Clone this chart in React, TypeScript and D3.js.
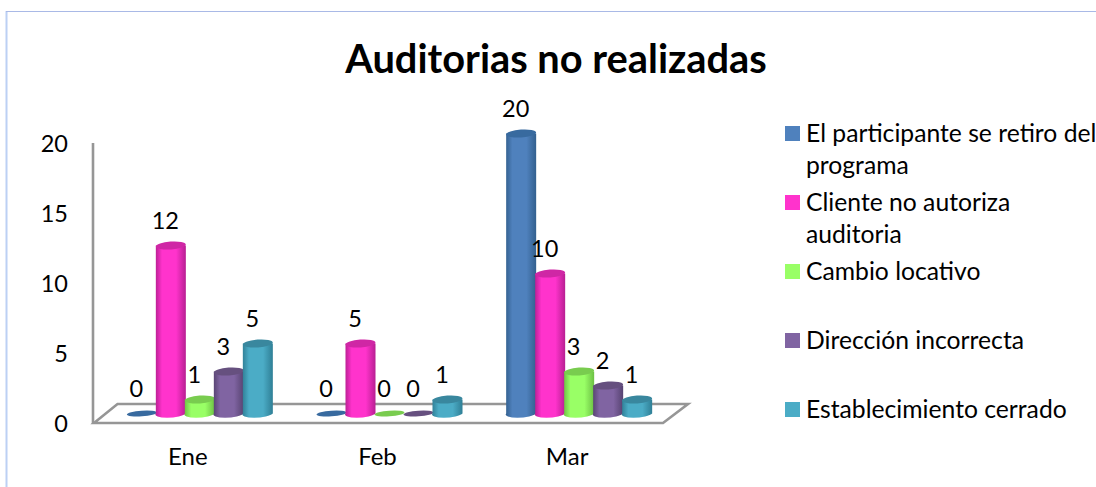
import React from "react";
import * as d3 from "d3";

const months = ["Ene", "Feb", "Mar"];
const seriesNames = [
  "El participante se retiro del programa",
  "Cliente no autoriza auditoria",
  "Cambio locativo",
  "Dirección incorrecta",
  "Establecimiento cerrado",
];
const participante = [0, 0, 20];
const cliente = [12, 5, 10];
const cambio = [1, 0, 3];
const direccion = [3, 0, 2];
const establecimiento = [5, 1, 1];
const seriesValues = [participante, cliente, cambio, direccion, establecimiento];
const legendLines = [
  ["El participante se retiro del", "programa"],
  ["Cliente no autoriza", "auditoria"],
  ["Cambio locativo"],
  ["Dirección incorrecta"],
  ["Establecimiento cerrado"],
];
const fills = ["#4f81bd", "#ff33cc", "#99ff66", "#8064a2", "#4bacc6"];
const darks = ["#33608f", "#b81f92", "#6cc044", "#574371", "#2f7f96"];
const tops = ["#386a9f", "#cf27a5", "#79cc4f", "#66507f", "#39879e"];
const yTicks = [0, 5, 10, 15, 20];

const FONT = "Lato, Carlito, Calibri, sans-serif";

export default function App() {
  const x = d3.scaleBand<string>().domain(months).range([94, 663]);
  const y = d3.scaleLinear().domain([0, 20]).range([423, 143]);
  const inner = d3.scaleBand<string>().domain(seriesNames).range([-72.5, 72.5]);
  const depthX = 23.5;
  const depthY = 19;
  const barShift = 11;
  const baseDrop = 9.5;
  const rx = 15;
  const ry = 3.9;
  const tilt = -4;
  const floor = [
    [x.range()[0], y(0)],
    [x.range()[0] + depthX, y(0) - depthY],
    [x.range()[1] + depthX + 1.5, y(0) - depthY],
    [x.range()[1], y(0)],
  ];
  const floorPath = d3.line()(floor as [number, number][]) + "Z";

  return (
    <svg
      width={1096}
      height={487}
      style={{ position: "absolute", left: 0, top: 0, background: "#fff", fontFamily: FONT }}
    >
      <defs>
        {fills.map((c, i) => (
          <linearGradient id={`g${i}`} key={i} x1="0" x2="1" y1="0" y2="0">
            <stop offset="0" stopColor={darks[i]} />
            <stop offset="0.22" stopColor={c} />
            <stop offset="0.68" stopColor={c} />
            <stop offset="1" stopColor={darks[i]} />
          </linearGradient>
        ))}
      </defs>

      <line x1={6.5} x2={6.5} y1={11} y2={487} stroke="#bcd0f4" strokeWidth={2} />
      <line x1={6} x2={1096} y1={11.5} y2={11.5} stroke="#a9b9e6" strokeWidth={1.2} />

      <text x={556} y={73} textAnchor="middle" fontSize={39.8} fontWeight={700} fill="#000">
        Auditorias no realizadas
      </text>

      <path d={floorPath} fill="#fff" stroke="#969696" strokeWidth={2.6} strokeLinejoin="miter" />
      <line x1={93} x2={93} y1={y(20)} y2={y(0) + 1} stroke="#969696" strokeWidth={2.6} />

      {yTicks.map((t) => (
        <text key={t} x={68} y={y(t) + 1} dy="0.36em" textAnchor="end" fontSize={23.5} fill="#000">
          {t}
        </text>
      ))}

      {months.map((m) => (
        <text key={m} x={x(m)! + x.bandwidth() / 2 - 1} y={465} textAnchor="middle" fontSize={24} fill="#000">
          {m}
        </text>
      ))}

      {months.map((m, mi) =>
        seriesNames.map((s, si) => {
          const cx = x(m)! + x.bandwidth() / 2 + barShift + inner(s)! + inner.bandwidth() / 2;
          const v = seriesValues[si][mi];
          const base = y(0) - baseDrop;
          const top = y(v) - baseDrop;
          const body = `M${cx - rx},${top} L${cx - rx},${base} A${rx},${ry} ${tilt} 0 0 ${cx + rx},${base} L${cx + rx},${top} Z`;
          return (
            <g key={m + s}>
              {v > 0 && <path d={body} fill={`url(#g${si})`} />}
              <ellipse
                cx={cx}
                cy={top}
                rx={rx}
                ry={v > 0 ? ry : 2.8}
                fill={tops[si]}
                transform={`rotate(${tilt} ${cx} ${top})`}
              />
            </g>
          );
        })
      )}

      {months.map((m, mi) =>
        seriesNames.map((s, si) => {
          const cx = x(m)! + x.bandwidth() / 2 + barShift + inner(s)! + inner.bandwidth() / 2;
          const v = seriesValues[si][mi];
          return (
            <text key={m + s} x={cx - 5.5} y={y(v) - 34.5} dy="0.36em" textAnchor="middle" fontSize={23.5} fill="#000">
              {v}
            </text>
          );
        })
      )}

      {seriesNames.map((s, i) => {
        const top = 126 + i * 69;
        return (
          <g key={s}>
            <rect x={785} y={top} width={15} height={15} fill={fills[i]} />
            {legendLines[i].map((l, j) => (
              <text key={j} x={806} y={top + 15.5 + j * 32} fontSize={24.7} fill="#000">
                {l}
              </text>
            ))}
          </g>
        );
      })}
    </svg>
  );
}
